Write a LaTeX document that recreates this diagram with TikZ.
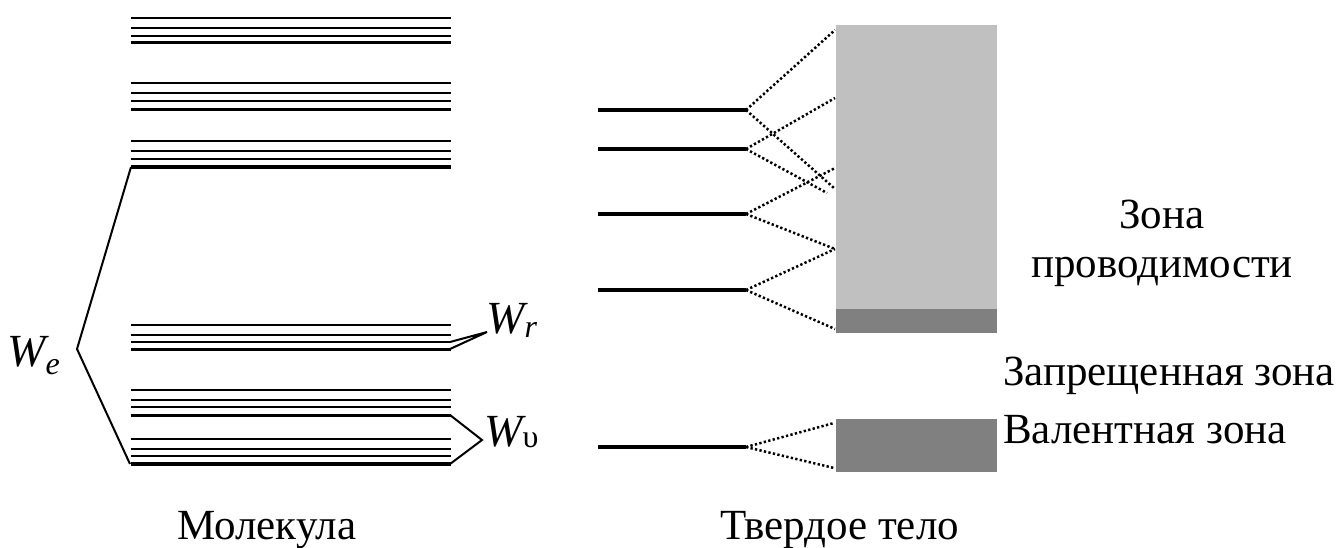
\documentclass[tikz,border=0pt]{standalone}
\usepackage{fontspec}
\setmainfont{Liberation Serif}
\definecolor{bandlight}{HTML}{C0C0C0}
\definecolor{banddark}{HTML}{808080}
\tikzset{
  lbl/.style={inner sep=0pt, font=\fontsize{43}{50}\selectfont},
  mlbl/.style={inner sep=0pt, font=\fontsize{46}{52}\selectfont\itshape},
  lvthin/.style={line width=1.9pt},
  lvmid/.style={line width=2.3pt},
  lvthick/.style={line width=3pt},
  lvbold/.style={line width=4.2pt},
  brace/.style={line width=2pt, line join=miter},
  atomlv/.style={line width=3.8pt},
  split/.style={line width=2.5pt, dash pattern=on 2.3pt off 2.3pt}
}
\begin{document}
\begin{tikzpicture}[x=1pt,y=-1pt]
\useasboundingbox (0,0) rectangle (1338,547);
% ---- molecule levels ----
\foreach \a/\b/\c/\d in {18/28/36/42, 83/93/101/109, 141/151/159/167,
                        325/335/342/349, 390/400/407/415, 439/449/456/464}{
  \draw[lvthin] (131,\a) -- (451,\a);
  \draw[lvthin] (131,\b) -- (451,\b);
  \draw[lvmid] (131,\c) -- (451,\c);
  \draw[lvthick] (131,\d) -- (451,\d);
}
\draw[lvbold] (131,167) -- (451,167);
\draw[lvbold] (131,464) -- (451,464);
% ---- brackets ----
\coordinate (eTop) at (131,167);
\coordinate (eTip) at (77,349);
\coordinate (eBot) at (130,464);
\draw[brace] (eTop) -- (eTip) -- (eBot);
\coordinate (rA) at (450,342);
\coordinate (rTip) at (487,332);
\coordinate (rB) at (450,349);
\draw[brace] (rA) -- (rTip) -- (rB);
\coordinate (vA) at (450,415);
\coordinate (vTip) at (482,440);
\coordinate (vB) at (450,464);
\draw[brace] (vA) -- (vTip) -- (vB);
% labels
\node[mlbl, anchor=base west] (We) at (7,366) {W\raisebox{-0.18em}{\fontsize{32}{32}\selectfont e}};
\node[mlbl, anchor=base west] (Wr) at (486,333) {W\raisebox{-0.1em}{\fontsize{32}{32}\selectfont r}};
\node[mlbl, anchor=base west] (Wv) at (484,446) {W\raisebox{-0.04em}{\fontsize{32}{32}\upshape υ}};
% ---- solid: bands ----
\fill[bandlight] (836,25) rectangle (997,309);
\fill[banddark] (836,309) rectangle (997,333);
\fill[banddark] (836,419) rectangle (997,472);
% atomic levels
\foreach \n/\y in {1/110, 2/149, 3/214, 4/290, 5/447}{
  \coordinate (s\n) at (598,\y);
  \coordinate (e\n) at (746,\y);
  \draw[atomlv] (s\n) -- (e\n);
}
% splitting lines
\coordinate (p1u) at (835,30);  \coordinate (p1d) at (834,188);
\coordinate (p2u) at (835,98);  \coordinate (p2d) at (827,193);
\coordinate (p3u) at (835,168); \coordinate (p3d) at (835,249);
\coordinate (p4u) at (835,249); \coordinate (p4d) at (835,329);
\coordinate (p5u) at (834,423); \coordinate (p5d) at (834,468);
\foreach \n in {1,...,5}{
  \draw[split] (e\n) -- (p\n u);
  \draw[split] (e\n) -- (p\n d);
}
% band labels
\node[lbl, anchor=base] (zona) at (1162,228) {Зона};
\node[lbl, anchor=base] (prov) at (1162,277) {проводимости};
\node[lbl, anchor=base west] (zapr) at (1003,385) {Запрещенная зона};
\node[lbl, anchor=base west] (val) at (1003,443) {Валентная зона};
% captions
\node[lbl, anchor=base west] (mol) at (177,539) {Молекула};
\node[lbl, anchor=base west] (tv) at (720,539) {Твердое тело};
\end{tikzpicture}
\end{document}
